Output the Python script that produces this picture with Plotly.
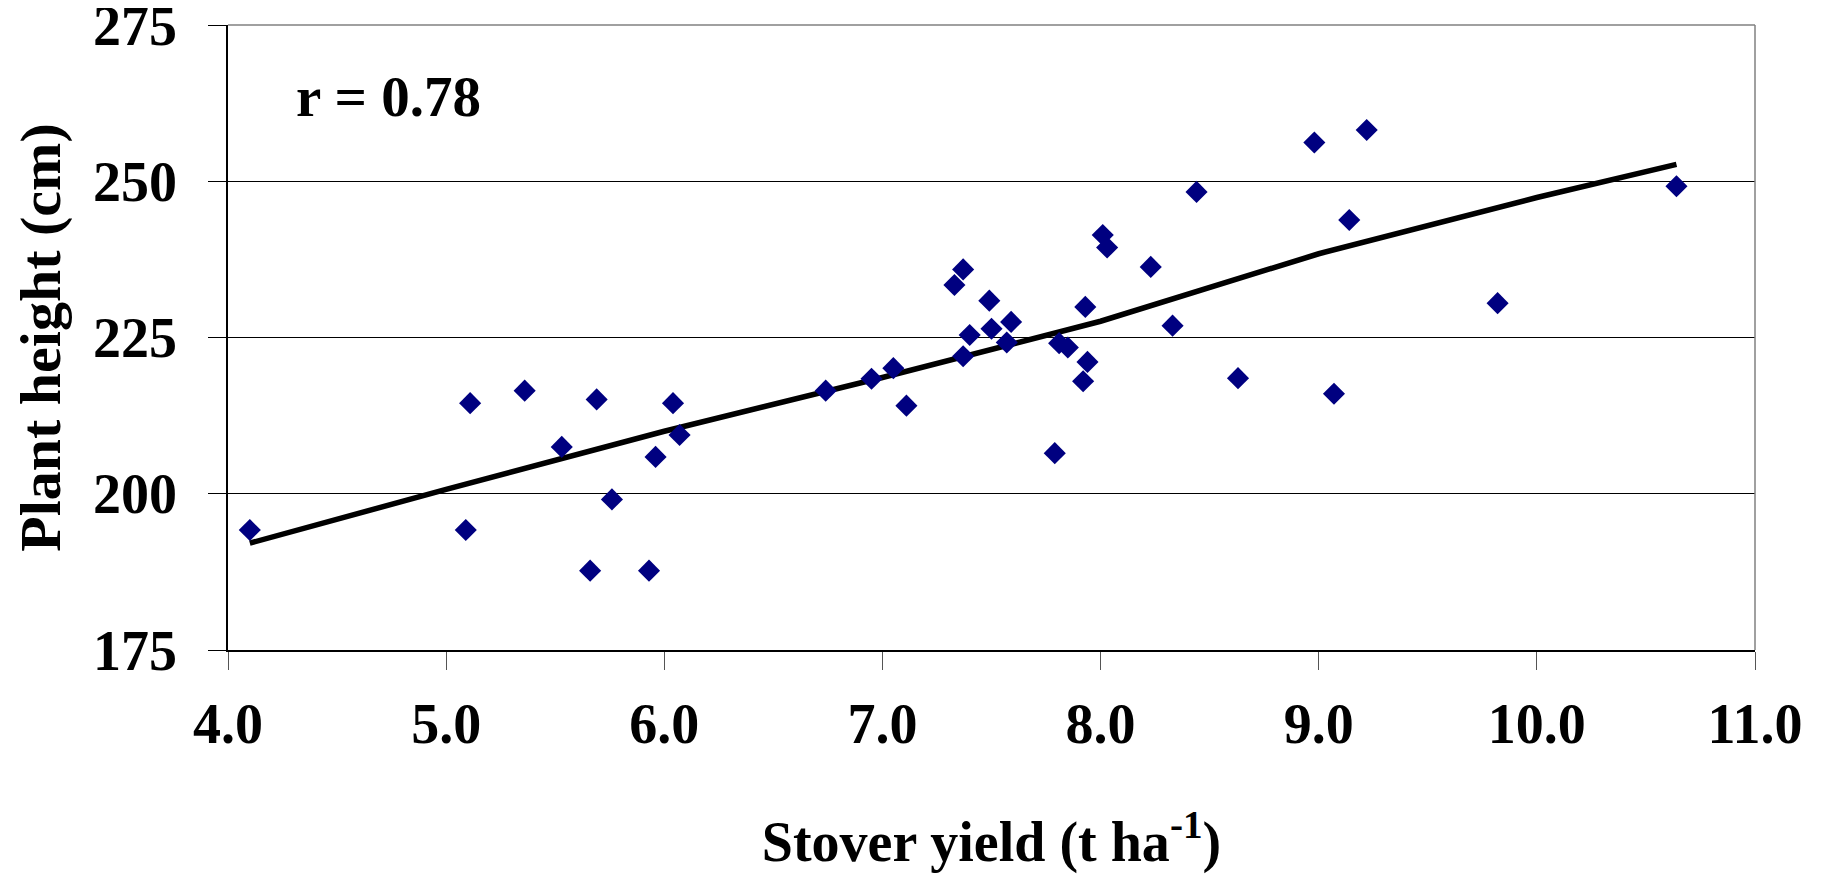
import plotly.graph_objects as go

stover_yield = [4.10, 5.11, 5.09, 5.36, 5.53, 5.66, 5.69, 5.76, 5.93, 5.96, 6.04, 6.07,
                6.74, 6.95, 7.05, 7.11, 7.33, 7.37, 7.49, 7.40, 7.37, 7.50, 7.59, 7.57,
                7.79, 7.81, 7.85, 7.93, 7.94, 7.92, 8.01, 8.03, 8.23, 8.33, 8.44, 8.63,
                8.98, 9.07, 9.14, 9.22, 9.82, 10.64]
plant_height = [194.2, 214.5, 194.2, 216.5, 207.5, 187.7, 215.1, 199.1, 187.7, 205.9, 214.5, 209.4,
                216.5, 218.4, 220.1, 214.1, 233.4, 235.9, 230.9, 225.4, 222.0, 226.4, 227.5, 224.2,
                206.5, 224.1, 223.4, 229.9, 221.1, 218.0, 241.4, 239.4, 236.3, 226.9, 248.3, 218.5,
                256.2, 216.0, 243.8, 258.2, 230.5, 249.2]

# Trend line vertices
trend_x = [4.10, 5.0, 6.0, 7.0, 8.0, 9.0, 10.0, 10.64]
trend_y = [192.1, 200.7, 210.0, 218.6, 227.6, 238.4, 247.4, 252.7]

x_ticks = [4.0, 5.0, 6.0, 7.0, 8.0, 9.0, 10.0, 11.0]
y_ticks = [175, 200, 225, 250, 275]

FONT = "Liberation Serif"

fig = go.Figure()
fig.add_trace(go.Scatter(
    x=trend_x, y=trend_y, mode="lines",
    line=dict(color="black", width=5.5), showlegend=False, hoverinfo="skip"))
fig.add_trace(go.Scatter(
    x=stover_yield, y=plant_height, mode="markers",
    marker=dict(symbol="diamond", size=17, color="#000080", line=dict(width=0)),
    showlegend=False))

fig.add_annotation(
    x=0.043, y=0.885, xref="paper", yref="paper", xanchor="left", yanchor="middle",
    text="<b>r = 0.78</b>", showarrow=False,
    font=dict(family=FONT, size=57, color="black"))

fig.update_layout(
    width=1824, height=882,
    margin=dict(l=220, r=77, t=17, b=240, autoexpand=False),
    paper_bgcolor="white", plot_bgcolor="white",
    font=dict(family=FONT, size=56, color="black"),
)
fig.update_xaxes(
    range=[4, 11], tickvals=x_ticks, ticktext=[f"<b>{v:.1f}</b>" for v in x_ticks],
    showgrid=False, zeroline=False,
    showline=True, linecolor="black", linewidth=1.5, mirror=False,
    ticks="outside", ticklen=18, tickwidth=1, tickcolor="#555555",
    ticklabelstandoff=6,
    tickfont=dict(family=FONT, size=56, color="black"),
    title=dict(text="<b>Stover yield (t ha<sup>-1</sup>)</b>", standoff=68,
               font=dict(family=FONT, size=56, color="black")),
)
fig.update_yaxes(
    range=[175, 275], tickvals=y_ticks, ticktext=[f"<b>{v}</b>" for v in y_ticks],
    showgrid=True, gridcolor="black", gridwidth=1, zeroline=False,
    showline=True, linecolor="black", linewidth=1.5, mirror=False,
    ticks="outside", ticklen=18, tickwidth=1, tickcolor="black",
    ticklabelstandoff=20, ticklabeloverflow="allow",
    tickfont=dict(family=FONT, size=56, color="black"),
    title=dict(text="<b>Plant height (cm)</b>", standoff=20,
               font=dict(family=FONT, size=58, color="black")),
)
# plot-area border on top and right (gray)
fig.add_shape(type="line", xref="paper", yref="paper", x0=0, x1=1, y0=1, y1=1,
              line=dict(color="#808080", width=1.5))
fig.add_shape(type="line", xref="paper", yref="paper", x0=1, x1=1, y0=0, y1=1,
              line=dict(color="#808080", width=1.5))

fig.write_html("out.html")
